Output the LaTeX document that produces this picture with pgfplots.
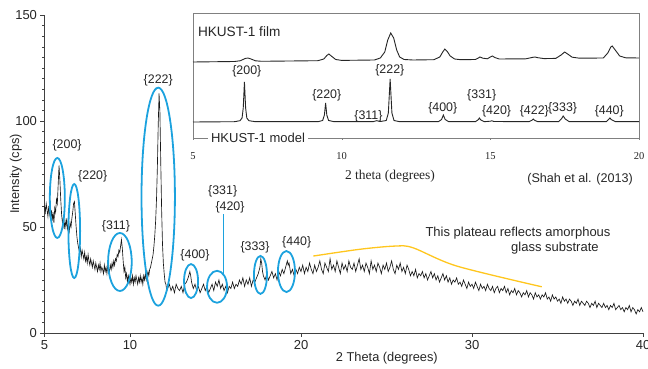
\documentclass[border=0pt]{standalone}
\usepackage{fontspec}
\setmainfont{Liberation Sans}
\newfontfamily\serifx{Liberation Serif}
\usepackage{pgfplots}
\pgfplotsset{compat=1.18}
\usetikzlibrary{calc}
\definecolor{cblue}{RGB}{28,162,222}
\definecolor{cyel}{RGB}{255,198,30}
\definecolor{txt}{gray}{0.15}
\begin{document}
\begin{tikzpicture}
\begin{axis}[name=main, scale only axis, width=598.5pt, height=318pt,
  xmin=5, xmax=40, ymin=0, ymax=150,
  axis x line=bottom, axis y line=left, axis line style={-, black!75},
  xtick={5,10,20,30,40}, ytick={0,50,100,150},
  minor x tick num=4, minor y tick num=9,
  tick align=outside, major tick length=4pt, minor tick length=2.5pt,
  tick style={black!75},
  /pgf/number format/assume math mode=true,
  ticklabel style={font=\fontsize{13}{15}\selectfont, text=txt},
  xlabel={2 Theta (degrees)}, ylabel={Intensity (cps)},
  label style={font=\fontsize{12.8}{15}\selectfont, text=txt},
  xlabel style={at={(axis description cs:0.572,-0.0786)}, anchor=center},
  ylabel style={at={(axis description cs:-0.048,0.5)}, anchor=center},
  clip=false]
\addplot[black!90, line width=0.65pt] coordinates {
(5.00,60)(5.05,57)(5.10,61)(5.15,58)(5.20,55)(5.25,60)(5.30,56)(5.35,54)(5.40,58)(5.45,53)(5.50,57)(5.55,52)(5.60,59)(5.65,57)(5.70,63)(5.75,61)(5.80,70)(5.85,79)(5.90,72)(5.95,63)(6.00,56)(6.05,52)(6.10,54)(6.15,49)(6.20,53)(6.25,50)(6.30,54)(6.35,49)(6.40,51)(6.45,48)(6.50,52)(6.55,50)(6.60,54)(6.65,57)(6.70,61)(6.75,62)(6.80,56)(6.85,50)(6.90,45)(6.95,42)(7.00,40)(7.05,38)(7.10,40)(7.15,36)(7.20,39)(7.25,37)(7.30,35)(7.35,38)(7.40,34)(7.45,36)(7.50,33)(7.55,37)(7.60,34)(7.65,32)(7.70,35)(7.75,33)(7.80,31)(7.85,34)(7.90,32)(7.95,30)(8.00,33)(8.05,31)(8.10,29)(8.15,32)(8.20,30)(8.25,33)(8.30,29)(8.35,31)(8.40,30)(8.45,28)(8.50,32)(8.55,29)(8.60,31)(8.65,28)(8.70,32)(8.75,30)(8.80,29)(8.85,32)(8.90,30)(8.95,33)(9.00,31)(9.05,34)(9.10,32)(9.15,35)(9.20,34)(9.25,37)(9.30,36)(9.35,39)(9.40,38)(9.45,41)(9.50,44)(9.55,40)(9.60,34)(9.65,29)(9.70,31)(9.75,26)(9.80,28)(9.85,24)(9.90,27)(9.95,25)(10.00,23)(10.05,26)(10.10,24)(10.15,27)(10.20,23)(10.25,26)(10.30,24)(10.35,27)(10.40,25)(10.45,23)(10.50,26)(10.55,24)(10.60,27)(10.65,24)(10.70,26)(10.75,23)(10.80,27)(10.85,25)(10.90,28)(10.95,25)(11.00,27)(11.05,29)(11.10,27)(11.15,30)(11.20,31)(11.25,33)(11.30,35)(11.35,37)(11.40,41)(11.45,46)(11.50,53)(11.55,63)(11.60,78)(11.65,98)(11.70,113)(11.75,104)(11.80,80)(11.85,58)(11.90,42)(11.95,33)(12.00,28)(12.05,24)(12.10,23)(12.15,20)
(12.2,21)(12.3,23)(12.4,20)(12.5,22)(12.6,19)(12.7,23)(12.8,21)(12.9,20)(13.0,22)(13.1,19)(13.2,23)(13.3,24)(13.4,26)(13.5,29)(13.55,27)(13.6,24)(13.7,21)(13.8,23)(13.9,20)(14.0,22)(14.1,19)(14.2,21)(14.3,23)(14.4,20)(14.5,22)(14.6,19)(14.7,21)(14.8,23)(14.9,20)(15.0,24)(15.1,22)(15.2,25)(15.3,21)(15.4,23)(15.5,20)(15.6,22)(15.7,19)(15.8,22)(15.9,21)(16.0,24)(16.1,21)(16.2,23)(16.3,22)(16.4,25)(16.5,23)(16.6,26)(16.7,22)(16.8,25)(16.9,23)(17.0,26)(17.1,22)(17.2,25)(17.3,24)(17.4,26)(17.5,28)(17.6,31)(17.65,35)(17.7,33)(17.75,29)(17.8,27)(17.9,25)(18.0,28)(18.1,25)(18.2,27)(18.3,29)(18.4,26)(18.5,28)(18.6,25)(18.7,29)(18.8,27)(18.9,30)(19.0,28)(19.1,31)(19.2,34)(19.25,32)(19.3,33)(19.4,28)(19.5,30)(19.6,27)(19.7,30)(19.8,28)(19.9,31)(20.0,29)
(20.1,32)(20.2,28)(20.3,31)(20.4,29)(20.5,33)(20.6,30)(20.7,28)(20.8,32)(20.9,29)(21.0,31)(21.1,34)(21.2,30)(21.3,28)(21.4,33)(21.5,31)(21.6,29)(21.7,35)(21.8,30)(21.9,32)(22.0,29)(22.1,34)(22.2,31)(22.3,28)(22.4,33)(22.5,30)(22.6,32)(22.7,29)(22.8,34)(22.9,31)(23.0,30)(23.1,33)(23.2,29)(23.3,32)(23.4,35)(23.5,30)(23.6,32)(23.7,29)(23.8,33)(23.9,31)(24.0,28)(24.1,34)(24.2,30)(24.3,32)(24.4,29)(24.5,33)(24.6,31)(24.7,28)(24.8,32)(24.9,30)(25.0,33)(25.1,29)(25.2,31)(25.3,34)(25.4,30)(25.5,28)(25.6,32)(25.7,30)(25.8,33)(25.9,29)(26.0,31)(26.1,28)(26.2,32)(26.3,30)(26.4,27)(26.5,29)(26.6,27)(26.7,30)(26.8,26)(26.9,28)(27.0,27)(27.1,29)(27.2,26)(27.3,28)(27.4,25)(27.5,27)(27.6,29)(27.7,26)(27.8,28)(27.9,25)(28.0,27)(28.1,24)(28.2,26)(28.3,28)(28.4,25)(28.5,27)(28.6,24)(28.7,26)(28.8,23)(28.9,25)(29.0,24)(29.1,26)(29.2,23)(29.3,24)(29.4,22)(29.5,25)(29.6,23)(29.7,21)(29.8,24)(29.9,22)(30.0,23)
(30.1,21)(30.2,24)(30.3,22)(30.4,20)(30.5,23)(30.6,21)(30.7,22)(30.8,20)(30.9,23)(31.0,21)(31.1,20)(31.2,22)(31.3,19)(31.4,21)(31.5,22)(31.6,19)(31.7,21)(31.8,20)(31.9,22)(32.0,19)(32.1,21)(32.2,18)(32.3,20)(32.4,19)(32.5,21)(32.6,18)(32.7,20)(32.8,19)(32.9,17)(33.0,19)(33.1,18)(33.2,20)(33.3,17)(33.4,19)(33.5,18)(33.6,16)(33.7,19)(33.8,17)(33.9,18)(34.0,16)(34.1,18)(34.2,17)(34.3,19)(34.4,16)(34.5,17)(34.6,15)(34.7,18)(34.8,16)(34.9,17)(35.0,15)(35.1,16)(35.2,14)(35.3,17)(35.4,15)(35.5,16)(35.6,14)(35.7,16)(35.8,15)(35.9,13)(36.0,15)(36.1,14)(36.2,16)(36.3,13)(36.4,15)(36.5,14)(36.6,13)(36.7,15)(36.8,14)(36.9,12)(37.0,14)(37.1,13)(37.2,15)(37.3,12)(37.4,14)(37.5,13)(37.6,12)(37.7,14)(37.8,12)(37.9,13)(38.0,11)(38.1,13)(38.2,12)(38.3,14)(38.4,11)(38.5,12)(38.6,13)(38.7,11)(38.8,12)(38.9,10)(39.0,12)(39.1,11)(39.2,13)(39.3,10)(39.4,12)(39.5,11)(39.6,9)(39.7,11)(39.8,10)(39.9,12)(40.0,10)};
\addplot[cyel, line width=1.3pt, smooth] coordinates {(20.72,36.3)(23.45,39.5)(25.5,41)(26.55,40.2)(29.1,31.6)(34.08,21.8)};
\begin{scope}[cblue, line width=1.8pt]
\draw (axis cs:5.75,63.7) ellipse [x radius=7.5pt, y radius=40pt];
\draw (axis cs:6.74,48.1) ellipse [x radius=5.85pt, y radius=47pt];
\draw (axis cs:9.41,33.5) ellipse [x radius=11.8pt, y radius=29pt];
\draw (axis cs:11.65,64.3) ellipse [x radius=16.7pt, y radius=109pt];
\draw (axis cs:13.57,24.5) ellipse [x radius=7pt, y radius=17pt];
\draw (axis cs:15.09,21.8) ellipse [x radius=10pt, y radius=16pt];
\draw (axis cs:17.63,27.4) ellipse [x radius=6.5pt, y radius=19pt];
\draw (axis cs:19.15,29) ellipse [x radius=8.5pt, y radius=20.5pt];
\end{scope}
\draw[cblue, line width=0.9pt] (axis cs:15.46,27.4) -- (axis cs:15.46,56);
\begin{scope}[every node/.style={font=\fontsize{12.4}{14}\selectfont, text=txt}]
\node at (axis cs:6.32,88.7) {\{200\}};
\node at (axis cs:7.82,73.7) {\{220\}};
\node at (axis cs:9.18,50.5) {\{311\}};
\node at (axis cs:11.65,119.3) {\{222\}};
\node at (axis cs:13.8,36.8) {\{400\}};
\node at (axis cs:15.42,67) {\{331\}};
\node at (axis cs:15.85,59.3) {\{420\}};
\node at (axis cs:17.31,40.2) {\{333\}};
\node at (axis cs:19.75,43) {\{440\}};
\node[font=\fontsize{13}{15}\selectfont] at (axis cs:32.69,47.3) {This plateau reflects amorphous};
\node[font=\fontsize{13}{15}\selectfont] at (axis cs:34.85,40.2) {glass substrate};
\node[font=\fontsize{12.6}{15}\selectfont] at (axis cs:36.32,72.6) {(Shah et al. (2013)};
\end{scope}
\end{axis}
\begin{axis}[name=inset, at={($(main.south west)+(148.5pt,195pt)$)}, anchor=south west,
  scale only axis, width=446pt, height=125pt,
  xmin=5, xmax=20, ymin=0, ymax=125,
  axis background/.style={fill=white},
  axis line style={black!50, line width=0.8pt},
  xtick={5,10,15,20}, ytick=\empty, xtick pos=bottom, tick align=outside,
  major tick length=2pt, tick style={black!50},
  /pgf/number format/assume math mode=true,
  xticklabel style={font=\serifx\fontsize{10.5}{12}\selectfont, text=txt, yshift=-9pt},
  xlabel={2 theta (degrees)},
  xlabel style={font=\serifx\fontsize{13.5}{15}\selectfont, text=txt, at={(axis description cs:0.4417,-0.304)}, anchor=center},
  clip=false]
\addplot[black!85, line width=0.9pt] coordinates {
(5,76)(6.4,76.5)(6.6,77.3)(6.75,79.5)(6.85,80)(6.95,79)(7.1,77.2)(7.3,76.7)(9.2,77.3)(9.4,79)(9.5,82.5)(9.57,84)(9.65,82)(9.8,78.5)(10,77.6)(11.1,78)(11.3,80)(11.45,86)(11.55,98)(11.65,105)(11.75,100)(11.85,88)(11.95,81)(12.1,78.5)(12.4,78)(13.1,78.3)(13.3,81)(13.4,86)(13.47,89)(13.55,86.5)(13.65,82)(13.8,79)(14.0,78.3)(14.5,78.5)(14.6,80)(14.65,81)(14.75,79.8)(14.9,79.2)(15.0,81)(15.07,82)(15.15,80.5)(15.3,79)(16.2,79.2)(16.4,80.5)(16.5,81)(16.6,80.3)(16.8,79.4)(17.2,79.6)(17.38,83)(17.5,86)(17.6,84)(17.75,80.8)(18.0,79.8)(18.8,80)(18.95,85)(19.05,91)(19.1,92)(19.2,88)(19.35,82)(19.55,80.2)(20,80)};
\addplot[black!85, line width=0.9pt] coordinates {
(5,16)(6.4,16.3)(6.58,17.3)(6.65,20)(6.69,30)(6.73,56)(6.77,30)(6.81,20)(6.88,17.3)(7.1,16.3)(9.2,16.3)(9.36,17.5)(9.42,23)(9.46,35)(9.5,23)(9.56,17.5)(9.75,16.3)(11.05,16.3)(11.18,17.3)(11.3,16.5)(11.5,17.5)(11.57,25)(11.63,59)(11.69,25)(11.76,17.5)(11.95,16.3)(13.25,16.3)(13.36,18.5)(13.42,23)(13.48,18.5)(13.6,16.3)(14.5,16.3)(14.6,18.5)(14.63,20)(14.68,18)(14.8,16.3)(15.0,16.8)(15.05,17.2)(15.12,16.5)(16.3,16.3)(16.4,17.8)(16.44,19)(16.5,17.5)(16.6,16.3)(17.3,16.4)(17.4,19.5)(17.45,22)(17.52,19)(17.65,16.4)(18.9,16.4)(18.98,18.6)(19.02,20)(19.08,18.2)(19.2,16.4)(20,16.4)};
\begin{scope}[every node/.style={font=\fontsize{12.4}{14}\selectfont, text=txt}]
\node at (axis cs:6.81,66.3) {\{200\}};
\node at (axis cs:9.50,43) {\{220\}};
\node at (axis cs:10.9,21.3) {\{311\}};
\node at (axis cs:11.62,67.3) {\{222\}};
\node at (axis cs:13.40,29.7) {\{400\}};
\node at (axis cs:14.71,43) {\{331\}};
\node at (axis cs:15.21,26.3) {\{420\}};
\node at (axis cs:16.48,26.3) {\{422\}};
\node at (axis cs:17.43,29.7) {\{333\}};
\node at (axis cs:19.0,26.3) {\{440\}};
\node[anchor=west, font=\fontsize{13.6}{15}\selectfont] at (axis cs:5.05,106.3) {HKUST-1 film};
\node[anchor=west, fill=white, inner xsep=3pt, inner ysep=1pt, font=\fontsize{13}{15}\selectfont] at (axis cs:5.5,0) {HKUST-1 model};
\end{scope}
\end{axis}
\pgfresetboundingbox
\path (main.south west) ++(-44.5pt,-36pt) rectangle ++(648pt,369pt);
\end{tikzpicture}
\end{document}
